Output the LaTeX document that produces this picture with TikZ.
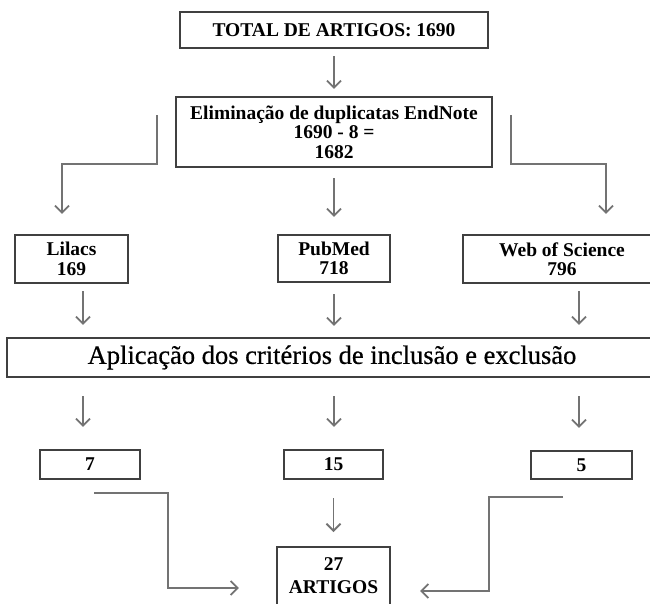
\documentclass[tikz,border=0pt]{standalone}
\usepackage{fontspec}
\setmainfont{Liberation Serif}
\newfontfamily\aplicfont[FakeBold=0.5]{Liberation Serif}
\usepackage{tikz}
\usetikzlibrary{arrows.meta}

\begin{document}
\begin{tikzpicture}[x=1pt,y=-1pt,
  box/.style={draw=black!75,line width=2.2pt,fill=white,align=center,inner sep=0pt,
    font=\fontsize{19.5}{19.5}\selectfont\bfseries},
  arr/.style={draw=black!55,line width=1.8pt,
    -{Straight Barb[length=7pt,width=14pt,line width=1.8pt]}}]
\useasboundingbox (0,0) rectangle (650,603);
% columns of the arrows
\coordinate (c1) at (83,0);
\coordinate (c2) at (334,0);
\coordinate (c3) at (579,0);
\node[box,minimum width=308,minimum height=36] (total) at (334,30) {TOTAL DE ARTIGOS: 1690};
\node[box,minimum width=316,minimum height=70] (elim) at (334,132) {Eliminação de duplicatas EndNote\\1690 - 8 =\\1682};
\node[box,minimum width=113,minimum height=48] (lilacs) at (71.5,259) {Lilacs\\169};
\node[box,minimum width=112,minimum height=47] (pubmed) at (334,258.5) {PubMed\\718};
\node[box,minimum width=198,minimum height=48] (wos) at (562,259) {Web of Science\\796};
\node[box,minimum width=650,minimum height=39,font=\aplicfont\fontsize{26.5}{28}\selectfont] (aplic) at (332,357.5) {Aplicação dos critérios de inclusão e exclusão};
\node[box,minimum width=100,minimum height=29] (n7) at (90,464.5) {7};
\node[box,minimum width=99,minimum height=29] (n15) at (333.5,464.5) {15};
\node[box,minimum width=101,minimum height=28] (n5) at (581.5,465) {5};
\node[box,anchor=north,minimum width=113,inner ysep=10pt,text depth=25pt,
  font=\fontsize{19.5}{23}\selectfont\bfseries] (final) at (333.5,546) {27\\ARTIGOS};
% arrows
\draw[arr,shorten <=7pt,shorten >=7pt] (total) -- (elim);
\coordinate (la) at (157,115);
\coordinate (lb) at (62,164);
\draw[arr,shorten >=20pt] (la) |- (lb) -- (lb |- lilacs.north);
\coordinate (ra) at (511,115);
\coordinate (rb) at (606,164);
\draw[arr,shorten >=20pt] (ra) |- (rb) -- (rb |- wos.north);
\draw[arr,shorten <=10pt,shorten >=17pt] (elim.south -| c2) -- (pubmed.north -| c2);
\draw[arr,shorten <=7pt,shorten >=12pt] (lilacs.south -| c1) -- (aplic.north -| c1);
\draw[arr,shorten <=11pt,shorten >=11pt] (pubmed.south -| c2) -- (aplic.north -| c2);
\draw[arr,shorten <=7pt,shorten >=12pt] (wos.south -| c3) -- (aplic.north -| c3);
\draw[arr,shorten <=18pt,shorten >=22pt] (aplic.south -| c1) -- (n7.north -| c1);
\draw[arr,shorten <=18pt,shorten >=22pt] (aplic.south -| c2) -- (n15.north -| c2);
\draw[arr,shorten <=18pt,shorten >=22pt] (aplic.south -| c3) -- (n5.north -| c3);
\coordinate (sa) at (94,493);
\coordinate (sb) at (168,588);
\draw[arr,shorten >=37pt] (sa) -| (sb) -- (sb -| final.west);
\coordinate (sc) at (563,497);
\coordinate (sd) at (489,591);
\draw[arr,shorten >=29pt] (sc) -| (sd) -- (sd -| final.east);
\draw[arr,shorten <=18pt,shorten >=14pt] (n15) -- (final);
\end{tikzpicture}
\end{document}
